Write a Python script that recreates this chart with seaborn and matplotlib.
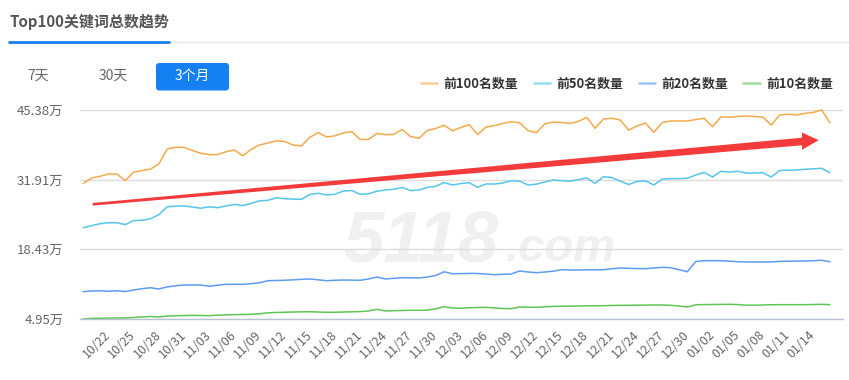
import numpy as np
import pandas as pd
import matplotlib
matplotlib.use("Agg")
import matplotlib.pyplot as plt
import matplotlib.dates as mdates
from matplotlib.patches import FancyBboxPatch, Polygon
from matplotlib.lines import Line2D
import seaborn as sns

# ---- data (values in 万) ----
start_date = "2023-10-19"
n_days = 90

top100 = [31.20, 32.22, 32.55, 33.00, 33.00, 31.74, 33.33, 33.66, 33.93, 34.93,
          37.83, 38.16, 38.16, 37.54, 37.02, 36.75, 36.75, 37.29, 37.64, 36.52,
          37.74, 38.61, 39.00, 39.42, 39.29, 38.61, 38.42, 40.10, 40.99, 40.16,
          40.39, 40.93, 41.22, 39.67, 39.71, 40.83, 40.62, 40.66, 41.61, 40.25,
          39.90, 41.41, 41.80, 42.44, 41.36, 41.99, 42.54, 40.64, 42.09, 42.36,
          42.77, 43.12, 42.92, 41.41, 40.99, 42.67, 43.06, 42.96, 42.77, 43.15,
          43.97, 41.84, 43.64, 43.79, 43.44, 41.51, 42.28, 42.86, 41.07, 42.96,
          43.25, 43.25, 43.25, 43.54, 43.77, 42.15, 44.08, 43.99, 44.12, 44.22,
          44.12, 43.99, 42.48, 44.41, 44.57, 44.41, 44.74, 44.90, 45.38, 42.92]

top50 = [22.61, 23.02, 23.38, 23.58, 23.58, 23.21, 23.98, 24.06, 24.33, 25.13,
         26.65, 26.79, 26.81, 26.62, 26.38, 26.65, 26.48, 26.81, 27.12, 26.87,
         27.31, 27.81, 27.91, 28.40, 28.22, 28.14, 28.10, 29.03, 29.27, 28.94,
         29.09, 29.71, 29.81, 29.07, 29.17, 29.67, 29.90, 30.04, 30.39, 29.79,
         29.90, 30.39, 30.62, 31.35, 30.87, 31.16, 31.32, 30.43, 31.06, 31.06,
         31.26, 31.70, 31.64, 30.87, 31.03, 31.45, 31.84, 31.70, 31.61, 31.90,
         32.23, 31.20, 32.48, 32.32, 31.61, 30.97, 31.55, 31.68, 30.87, 32.03,
         32.09, 32.11, 32.17, 32.81, 33.31, 32.42, 33.52, 33.37, 33.52, 33.19,
         33.19, 33.25, 32.42, 33.68, 33.73, 33.77, 33.91, 34.00, 34.10, 33.25]

top20 = [10.23, 10.37, 10.41, 10.31, 10.42, 10.25, 10.56, 10.81, 11.00, 10.75,
         11.16, 11.37, 11.53, 11.53, 11.53, 11.28, 11.49, 11.66, 11.66, 11.66,
         11.78, 11.95, 12.36, 12.40, 12.44, 12.53, 12.61, 12.69, 12.53, 12.36,
         12.44, 12.49, 12.47, 12.44, 12.69, 13.07, 12.69, 12.82, 12.94, 12.92,
         12.88, 13.07, 13.36, 14.08, 13.71, 13.73, 13.77, 13.75, 13.65, 13.52,
         13.60, 13.65, 14.24, 14.04, 13.91, 14.04, 14.20, 14.49, 14.43, 14.43,
         14.47, 14.47, 14.49, 14.66, 14.82, 14.76, 14.70, 14.68, 14.82, 14.95,
         14.87, 14.49, 14.10, 16.07, 16.23, 16.23, 16.23, 16.13, 16.03, 15.98,
         15.98, 15.98, 15.98, 16.11, 16.13, 16.15, 16.17, 16.23, 16.31, 16.03]

top10 = [4.95, 5.07, 5.10, 5.14, 5.14, 5.18, 5.24, 5.34, 5.45, 5.34,
         5.53, 5.57, 5.61, 5.67, 5.63, 5.59, 5.69, 5.76, 5.80, 5.82,
         5.86, 5.96, 6.15, 6.21, 6.25, 6.30, 6.34, 6.36, 6.30, 6.25,
         6.25, 6.30, 6.34, 6.38, 6.50, 6.83, 6.50, 6.56, 6.59, 6.63,
         6.63, 6.65, 6.92, 7.33, 7.08, 7.04, 7.12, 7.17, 7.21, 7.08,
         6.98, 6.94, 7.27, 7.23, 7.21, 7.31, 7.39, 7.41, 7.43, 7.46,
         7.48, 7.50, 7.52, 7.56, 7.60, 7.60, 7.62, 7.64, 7.66, 7.66,
         7.60, 7.46, 7.27, 7.70, 7.74, 7.75, 7.77, 7.79, 7.74, 7.62,
         7.62, 7.66, 7.70, 7.72, 7.72, 7.72, 7.72, 7.75, 7.79, 7.72]

series_names = ["前100名数量", "前50名数量", "前20名数量", "前10名数量"]
series_colors = ["#f6a94a", "#55c6ea", "#5e9cf0", "#5fc555"]
y_ticks = [4.95, 18.43, 31.91, 45.38]

dates = pd.date_range(start_date, periods=n_days, freq="D")
frames = []
for name, vals in zip(series_names, [top100, top50, top20, top10]):
    frames.append(pd.DataFrame({"date": dates, "value": vals, "series": name}))
df = pd.concat(frames, ignore_index=True)

# ---- style ----
sns.set_theme(style="white")
plt.rcParams["font.family"] = ["Noto Sans CJK SC", "DejaVu Sans"]

W, H = 849, 380
fig = plt.figure(figsize=(W / 100, H / 100), dpi=100)
fig.patch.set_facecolor("white")


def fx(x):
    return x / W


def fy(y):
    return 1 - y / H


ax = fig.add_axes([fx(80), fy(319), fx(843) - fx(80), fy(110) - fy(319)])
ax.patch.set_alpha(0)

sns.lineplot(data=df, x="date", y="value", hue="series", hue_order=series_names,
             palette=dict(zip(series_names, series_colors)), linewidth=1.1,
             legend=False, ax=ax)

# watermark
ax.text(fx(343), fy(261), "5118", transform=fig.transFigure, fontsize=52,
        style="italic", fontweight="bold", color="#f0f0f0", zorder=0.3,
        family="Liberation Sans", clip_on=False)
ax.text(fx(506), fy(261), ".com", transform=fig.transFigure, fontsize=34,
        style="italic", fontweight="bold", color="#f0f0f0", zorder=0.3,
        family="Liberation Sans", clip_on=False)

# axes
ax.set_ylim(y_ticks[0], y_ticks[-1])
ax.set_yticks(y_ticks)
ax.set_yticklabels([f"{v:.2f}万" for v in y_ticks])
ax.grid(axis="y", color="#dcdcdc", linewidth=1)
ax.set_axisbelow(True)
for s in ["top", "left", "right"]:
    ax.spines[s].set_visible(False)
ax.spines["bottom"].set_color("#b8c4d6")
ax.spines["bottom"].set_linewidth(1)

t0 = dates[0]
ax.set_xlim(t0 - pd.Timedelta(days=0.393), t0 + pd.Timedelta(days=90.55))
tick_dates = pd.date_range(t0, periods=31, freq="3D")
ax.set_xticks(tick_dates)
labels = [d.strftime("%m/%d") for d in tick_dates]
labels[0] = ""
labels[-1] = ""
ax.set_xticklabels(labels)
ax.tick_params(axis="x", length=5, width=1, color="#b8c4d6", pad=5,
               labelsize=9, labelcolor="#666666")
for lab in ax.get_xticklabels():
    lab.set_rotation(45)
    lab.set_ha("right")
    lab.set_va("center")
    lab.set_rotation_mode("anchor")
ax.tick_params(axis="y", length=0, pad=12, labelsize=9.5, labelcolor="#666666")
ax.set_xlabel("")
ax.set_ylabel("")
for line in ax.get_lines():
    line.set_clip_on(False)

# legend
handles = [Line2D([0], [0], color=c, lw=1.8, alpha=0.6) for c in series_colors]
leg = fig.legend(handles, series_names, ncol=4, loc="center right",
                 bbox_to_anchor=(fx(838), fy(84)), frameon=False,
                 handlelength=1.25, handletextpad=0.5, columnspacing=1.2,
                 borderaxespad=0, prop={"size": 9.3, "weight": "bold"})
for t in leg.get_texts():
    t.set_color("#333333")

# header
fig.text(fx(10), fy(22), "Top100关键词总数趋势", fontsize=10.8, fontweight="bold",
         color="#555555", va="center", ha="left")
fig.add_artist(Line2D([fx(169), 1], [fy(42), fy(42)], color="#e6e6e6", lw=1))
fig.add_artist(Line2D([fx(9), fx(169)], [fy(42), fy(42)], color="#1a7ff0", lw=2))

# range buttons
btn = FancyBboxPatch((fx(156), fy(90.5)), fx(229) - fx(156), fy(63) - fy(90.5),
                     boxstyle="round,pad=0,rounding_size=0.004",
                     mutation_aspect=W / H, transform=fig.transFigure,
                     facecolor="#1580f2", edgecolor="none")
fig.add_artist(btn)
fig.text(fx(38), fy(76), "7天", fontsize=10, color="#666666", ha="center", va="center")
fig.text(fx(113), fy(76), "30天", fontsize=10, color="#666666", ha="center", va="center")
fig.text(fx(192.5), fy(76), "3个月", fontsize=10, color="white", ha="center", va="center")

# red trend arrow
arrow_px = [(92.7, 203.0), (802, 137.7), (802, 132.5), (818.7, 140.2),
            (802, 149.8), (802, 145.3), (92.7, 205.6)]
fig.add_artist(Polygon([(fx(x), fy(y)) for x, y in arrow_px], closed=True,
                       transform=fig.transFigure, facecolor="#f43b3b",
                       edgecolor="none", zorder=5))

fig.savefig("out.png", dpi=100)
